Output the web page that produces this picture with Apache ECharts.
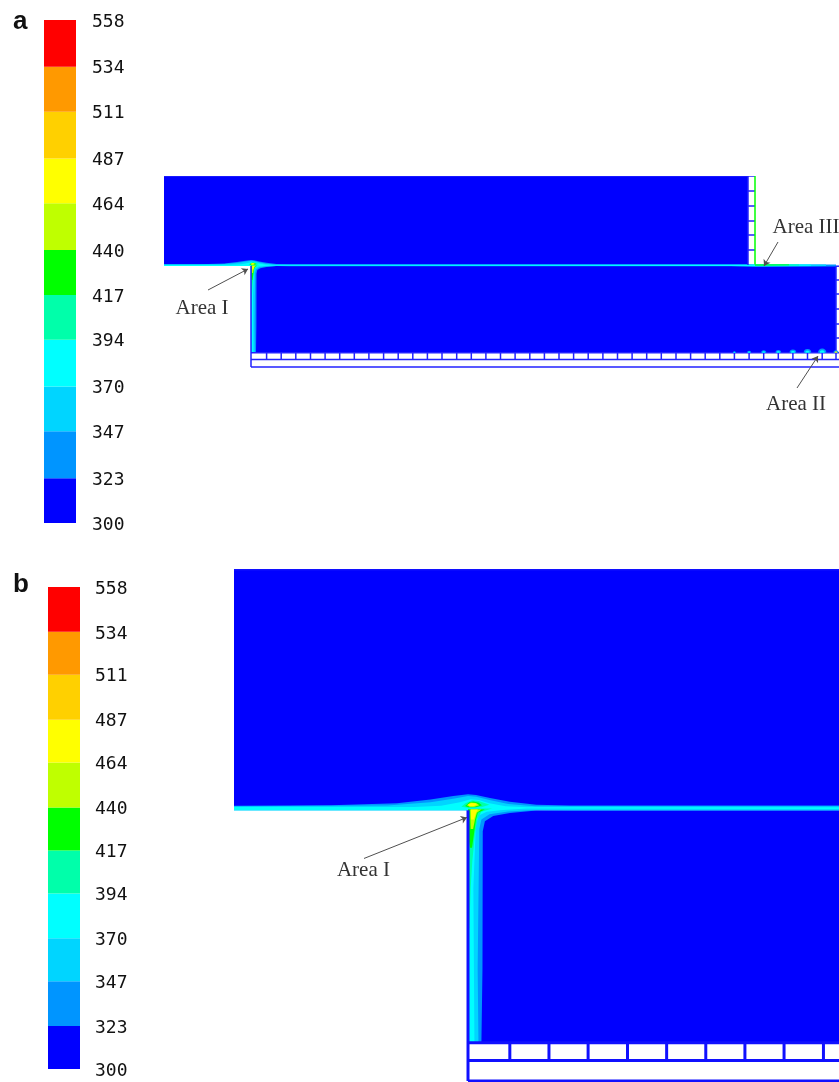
<!DOCTYPE html>
<html>
<head>
<meta charset="utf-8">
<style>html,body{margin:0;padding:0;background:#fff}#c{width:839px;height:1082px;filter:blur(0.5px)}</style>
<script src="https://cdn.jsdelivr.net/npm/echarts@6/dist/echarts.min.js"></script>
</head>
<body>
<div id="c"></div>
<script>
// Colour scale: temperature tick labels and the band above each one
const tickLabels = [300, 323, 347, 370, 394, 417, 440, 464, 487, 511, 534, 558];
const bandColors = ['#0000ff', '#0095ff', '#00d5ff', '#00ffff', '#00ffaa', '#00ff00', '#bfff00', '#ffff00', '#ffd000', '#ff9900', '#ff0000'];

// Solid regions, in model units [along, height] measured from the step corner
const upperBlock = [[-88, 0], [497, 0], [497, 89], [-88, 89]];
const lowerBlock = [[0, -1], [585, -1], [585, -87.8], [0, -87.8]];

// Contour regions, one list per band (lower bound of band)
const contour323 = [[[-88,0.7],[-51,0.85],[-26.5,1.6],[-14,3],[-5.5,4.3],[0,5],[3,4.7],[8.2,3.6],[15.6,2.2],[25.5,1],[38,0.8],[497,0.8],[504,0.6],[585,0.6],[585,-1.4],[505,-1.8],[497,-1.6],[480,-1.2],[38,-1.2],[25.5,-1.1],[15.6,-2],[9.4,-3.2],[6.3,-5.1],[5.5,-8.8],[5.4,-60],[5,-87.8],[0,-87.8],[0,-1],[-88,-1]]];
const contour347 = [[[-88,0.45],[-30,0.75],[-14,2],[-5,3.4],[0,4.3],[3,4],[8,2.8],[15,1.3],[25,0.5],[497,0.5],[504,0.6],[575,0.6],[575,-1],[505,-1.4],[480,-0.9],[25,-0.9],[15,-1.5],[8,-2.5],[5,-4.5],[4.2,-8],[3.6,-60],[3.9,-87.8],[0,-87.8],[0,-1],[-88,-1]]];
const contour370 = [[[-88,0.2],[-20,0.2],[-10,0.7],[-3,2],[1,3.1],[4,2.8],[8,1.6],[14,0.5],[22,0.1],[497,0.1],[504,0.6],[560,0.6],[560,-0.7],[505,-1],[22,-0.4],[13,-0.9],[7,-1.6],[4,-3],[2.9,-7],[2,-30],[2.4,-87.8],[0,-87.8],[0,-1],[-88,-1]]];
const contour394 = [
  [[-2.5,0.3],[-1,1.6],[1.5,2.7],[4,2.4],[8,1],[5,0.1],[0,-0.1]],
  [[0,-0.4],[9,-0.4],[5,-1.6],[3.6,-4],[2.6,-10],[1.6,-20],[1,-30],[0.5,-45],[0,-45]],
  [[504,0.6],[548,0.6],[548,-0.5],[504,-0.7]]
];
const contour417 = [
  [[-1.1,0.6],[0.5,2],[2,2.3],[4,1.8],[5.2,0.9],[3,0.1],[0,0.1]],
  [[0,-0.6],[6.3,-0.7],[3.7,-1.9],[3,-4.5],[2.2,-10],[1.5,-15],[0.7,-15],[0,-10]],
  [[504,0.6],[538,0.6],[538,-0.3],[504,-0.4]]
];
const contour440 = [
  [[-0.4,0.9],[1,1.9],[3,1.7],[4.2,0.9],[2.4,0.3],[0.6,0.3]],
  [[0.8,-0.7],[5,-0.7],[3.3,-1.9],[2.6,-4.5],[1.9,-8],[1,-8]]
];
const contour464 = [
  [[0,1.1],[1.4,1.7],[2.8,1.5],[3.3,1],[2,0.5],[0.7,0.5]],
  [[1.1,-0.7],[3.7,-0.7],[3,-1.9],[2.2,-4.5],[1.1,-4.5]]
];
const contourBands = [[323, contour323], [347, contour347], [370, contour370], [394, contour394], [417, contour417], [440, contour440], [464, contour464]];

// Mesh: cell divisions
const bottomCellTicks = [15.6,30.2,44.8,59.5,74.1,88.7,103.3,117.9,132.6,147.2,161.8,176.4,191,205.7,220.3,234.9,249.5,264.1,278.8,293.4,308,322.6,337.2,351.9,366.5,381.1,395.7,410.3,425,439.6,454.2,468.8,483.4,498.1,512.7,527.3,541.9,556.5,571.2,585];
const upperSideTicks = [15, 30, 44, 59, 74];
const lowerSideTicks = [-15, -29, -44, -59, -73];
const meshOutlines = [
  [[0,-1],[0,-102]],
  [[0,-87.8],[590,-87.8]],
  [[0,-94.4],[590,-94.4]],
  [[0,-102],[590,-102]],
  [[-88,89],[504,89]],
  [[497,89],[497,0]],
  [[585,-1.2],[585,-87.8]],
  [[585,-1.2],[590,-1.2]]
];
const hotSurfaceLine = [[504,89],[504,0.4]];

// Area II: small warm spots on the cells at the right end
const spotAlong = [483.4, 498.1, 512.7, 527.3, 541.9, 556.5, 571.2, 585];
const spotHeight = [1.6, 2.1, 2.6, 2.9, 3.4, 3.8, 4.2, 2.6];
const spotCoreBand = [3, 3, 3, 3, 3, 3, 3, 7];

// Annotations
const notesA = [
  {text: 'Area I', at: [-49, -43], from: [-43, -25], to: [-3, -4]},
  {text: 'Area III', at: [555, 38], from: [527, 23], to: [513, -1]},
  {text: 'Area II', at: [545, -139], from: [546, -123], to: [567, -91]}
];
const notesB = [
  {text: 'Area I', at: [-39, -23.5], from: [-38.8, -19], to: [-0.4, -3.7]}
];

function colorOfBand(lower) { return bandColors[tickLabels.indexOf(lower)]; }

const fieldShapes = [
  {pts: upperBlock, color: bandColors[0]},
  {pts: lowerBlock, color: bandColors[0]}
];
contourBands.forEach(function (b) {
  b[1].forEach(function (p) { fieldShapes.push({pts: p, color: colorOfBand(b[0])}); });
});

const bands = bandColors.map(function (c, i) { return [tickLabels[i], tickLabels[i + 1], i]; });

function scaleSeries(idx) {
  return {
    type: 'custom', xAxisIndex: idx, yAxisIndex: idx, silent: true,
    data: bands,
    encode: {y: [0, 1]},
    renderItem: function (params, api) {
      const lo = api.coord([0, api.value(0)]);
      const hi = api.coord([0, api.value(1)]);
      const cs = params.coordSys;
      return {type: 'rect', shape: {x: cs.x, y: hi[1], width: cs.width, height: lo[1] - hi[1]},
        style: {fill: bandColors[api.value(2)]}};
    }
  };
}

function fieldSeries(idx, meshWidth, meshColor) {
  const meshSegs = meshOutlines.slice();
  bottomCellTicks.forEach(function (u) { meshSegs.push([[u, -87.8], [u, -94.4]]); });
  upperSideTicks.forEach(function (v) { meshSegs.push([[497, v], [504, v]]); });
  lowerSideTicks.forEach(function (v) { meshSegs.push([[585, v], [590, v]]); });
  return [
    {
      type: 'custom', xAxisIndex: idx, yAxisIndex: idx, silent: true, clip: true, z: 2,
      data: fieldShapes.map(function (s, i) { return [i]; }),
      encode: {x: 0},
      renderItem: function (params, api) {
        const s = fieldShapes[params.dataIndex];
        return {type: 'polygon', shape: {points: s.pts.map(function (p) { return api.coord(p); })},
          style: {fill: s.color}};
      }
    },
    {
      type: 'custom', xAxisIndex: idx, yAxisIndex: idx, silent: true, clip: true, z: 3,
      data: meshSegs.map(function (s, i) { return [i]; }),
      encode: {x: 0},
      renderItem: function (params, api) {
        return {type: 'polyline', shape: {points: meshSegs[params.dataIndex].map(function (p) { return api.coord(p); })},
          style: {fill: null, stroke: meshColor, lineWidth: meshWidth}};
      }
    },
    {
      type: 'custom', xAxisIndex: idx, yAxisIndex: idx, silent: true, clip: true, z: 4,
      data: spotAlong.map(function (u, i) { return [u, spotHeight[i], spotCoreBand[i]]; }),
      renderItem: function (params, api) {
        const c = api.coord([api.value(0), -87.8]);
        const r = api.size([api.value(1), 0])[0];
        const arc = function (radius, fill) {
          return {type: 'sector', shape: {cx: c[0], cy: c[1], r0: 0, r: radius, startAngle: Math.PI, endAngle: 2 * Math.PI},
            style: {fill: fill}};
        };
        return {type: 'group', children: [arc(r, bandColors[1]), arc(r * 0.6, bandColors[api.value(2)])]};
      }
    },
    {
      type: 'custom', xAxisIndex: idx, yAxisIndex: idx, silent: true, clip: true, z: 4,
      data: idx === 2 ? [[0]] : [],
      encode: {x: 0},
      renderItem: function (params, api) {
        return {type: 'polyline', shape: {points: hotSurfaceLine.map(function (p) { return api.coord(p); })},
          style: {fill: null, stroke: bandColors[5], lineWidth: 1.5}};
      }
    }
  ];
}

function noteSeries(idx, notes) {
  return [
    {
      type: 'lines', coordinateSystem: 'cartesian2d', xAxisIndex: idx, yAxisIndex: idx, silent: true, z: 6, clip: false,
      symbol: ['none', 'arrow'], symbolSize: 6,
      lineStyle: {color: '#505050', width: 1, opacity: 1},
      data: notes.map(function (n) { return {coords: [n.from, n.to]}; })
    },
    {
      type: 'custom', xAxisIndex: idx, yAxisIndex: idx, silent: true, clip: false, z: 6,
      data: notes.map(function (n, i) { return [n.at[0], n.at[1], i]; }),
      renderItem: function (params, api) {
        const p = api.coord([api.value(0), api.value(1)]);
        return {type: 'text', x: p[0], y: p[1], style: {
          text: notes[api.value(2)].text, fill: '#333333', align: 'center', verticalAlign: 'middle',
          font: '21px "Liberation Serif"'}};
      }
    }
  ];
}

const hiddenX = function (idx, min, max) {
  return {type: 'value', gridIndex: idx, min: min, max: max, show: false};
};
const hiddenY = function (idx, min, max) {
  return {type: 'value', gridIndex: idx, min: min, max: max, show: false};
};
const scaleY = function (idx, margin) {
  return {
    type: 'value', gridIndex: idx, min: tickLabels[0], max: tickLabels[tickLabels.length - 1],
    axisLine: {show: false}, axisTick: {show: false}, splitLine: {show: false},
    axisLabel: {
      customValues: tickLabels, margin: margin, inside: false, verticalAlign: 'top', lineHeight: 4,
      color: '#111', fontFamily: 'DejaVu Sans Mono', fontSize: 18,
      showMinLabel: true, showMaxLabel: true
    },
    position: 'right'
  };
};

const option = {
  animation: false,
  backgroundColor: '#ffffff',
  title: [
    {text: 'a', left: 8, top: 4, textStyle: {fontFamily: 'Liberation Sans', fontWeight: 'bold', fontSize: 26, color: '#111'}},
    {text: 'b', left: 8, top: 567, textStyle: {fontFamily: 'Liberation Sans', fontWeight: 'bold', fontSize: 26, color: '#111'}}
  ],
  grid: [
    {left: 44, top: 20, width: 32, height: 503},
    {left: 48, top: 587, width: 32, height: 482},
    {left: 164, top: 176, width: 675, height: 234},
    {left: 234, top: 569, width: 605, height: 513}
  ],
  xAxis: [hiddenX(0, 0, 1), hiddenX(1, 0, 1), hiddenX(2, -87, 588), hiddenX(3, -87.3, 138.4)],
  yAxis: [scaleY(0, 16), scaleY(1, 15), hiddenY(2, -145, 89), hiddenY(3, -102.4, 89)],
  series: [scaleSeries(0), scaleSeries(1)]
    .concat(fieldSeries(2, 1.5, '#2222ff'))
    .concat(fieldSeries(3, 3, '#1010ff'))
    .concat(noteSeries(2, notesA))
    .concat(noteSeries(3, notesB))
};

const chart = echarts.init(document.getElementById('c'), null, {renderer: 'canvas'});
chart.setOption(option);
</script>
</body>
</html>
